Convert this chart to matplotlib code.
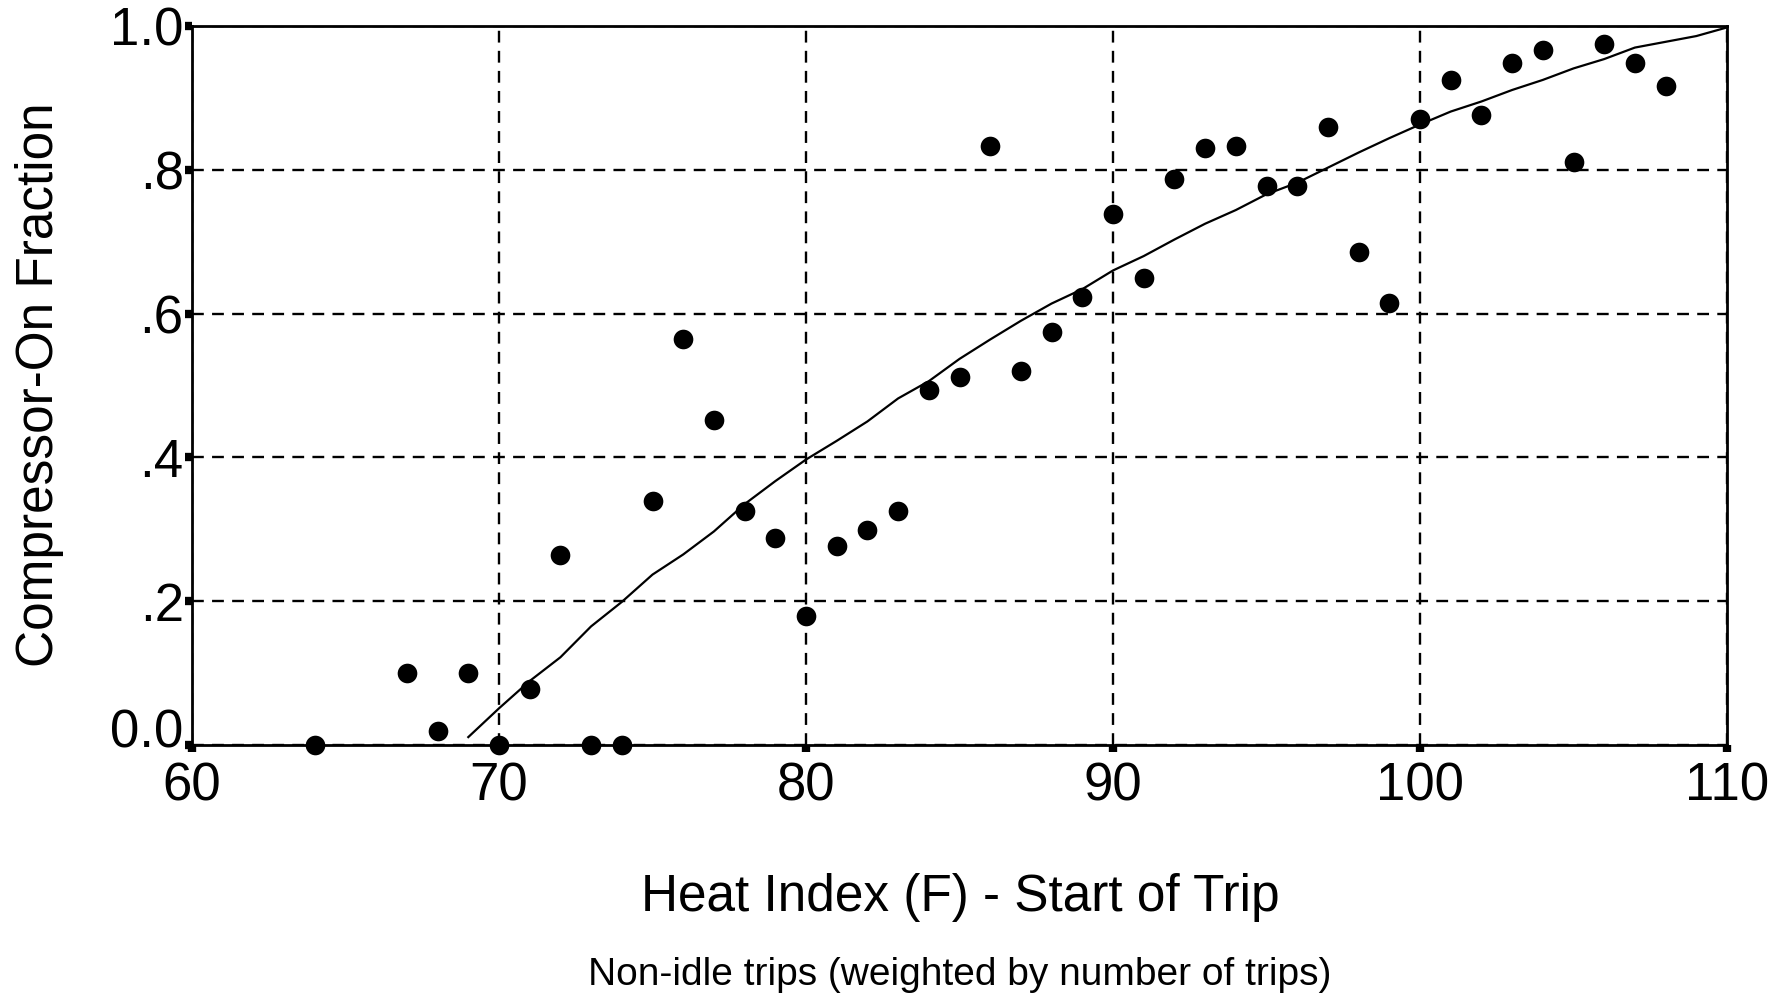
import numpy as np
import matplotlib
matplotlib.use("Agg")
import matplotlib.pyplot as plt
import matplotlib.transforms as mtransforms

# observed compressor-on fraction by heat index
heat_index = [64, 67, 68, 69, 70, 71, 72, 73, 74, 75, 76, 77, 78, 79, 80,
              81, 82, 83, 84, 85, 86, 87, 88, 89, 90, 91, 92, 93, 94, 95,
              96, 97, 98, 99, 100, 101, 102, 103, 104, 105, 106, 107, 108]
on_fraction = [0.0, 0.10, 0.02, 0.10, 0.0, 0.078, 0.264, 0.0, 0.0, 0.340,
               0.564, 0.452, 0.326, 0.288, 0.180, 0.277, 0.299, 0.326, 0.494,
               0.512, 0.833, 0.520, 0.574, 0.623, 0.738, 0.650, 0.787, 0.830,
               0.833, 0.777, 0.777, 0.860, 0.685, 0.615, 0.871, 0.925, 0.876,
               0.949, 0.967, 0.811, 0.975, 0.948, 0.917]

# fitted curve
fit_x = [69, 70, 71, 72, 73, 74, 75, 76, 77, 78, 79, 80, 81, 82, 83, 84, 85,
         86, 87, 88, 89, 90, 91, 92, 93, 94, 95, 96, 97, 98, 99, 100, 101,
         102, 103, 104, 105, 106, 107, 108, 109, 110]
fit_y = [0.011, 0.051, 0.089, 0.122, 0.165, 0.199, 0.237, 0.265, 0.297,
         0.335, 0.367, 0.397, 0.423, 0.450, 0.482, 0.506, 0.537, 0.564,
         0.590, 0.614, 0.634, 0.660, 0.680, 0.703, 0.725, 0.744, 0.766,
         0.782, 0.803, 0.824, 0.844, 0.863, 0.881, 0.895, 0.911, 0.925,
         0.941, 0.954, 0.970, 0.978, 0.986, 0.998]

x_ticks = [60, 70, 80, 90, 100, 110]
y_ticks = [0.0, 0.2, 0.4, 0.6, 0.8, 1.0]
y_tick_labels = ["0.0", ".2", ".4", ".6", ".8", "1.0"]

plt.rcParams['font.family'] = ['Liberation Sans', 'DejaVu Sans']

fig = plt.figure(figsize=(17.91, 9.97), dpi=100)
ax = fig.add_axes([192 / 1791, 1 - 745 / 997, (1727 - 192) / 1791, (745 - 26) / 997])

ax.set_xlim(60, 110)
ax.set_ylim(0, 1.0)
ax.set_xticks(x_ticks)
ax.set_yticks(y_ticks)
ax.set_yticklabels(y_tick_labels)

ax.grid(True, color='black', linestyle=(0, (5, 3.5)), linewidth=1.7)
ax.set_axisbelow(True)

ax.plot(fit_x, fit_y, color='black', linewidth=1.6, zorder=3)
ax.scatter(heat_index, on_fraction, s=200, color='black', linewidths=0,
           clip_on=False, zorder=5)

for s in ax.spines.values():
    s.set_linewidth(2)
ax.tick_params(axis='both', direction='out', length=5, width=6,
               labelsize=38)
ax.tick_params(axis='x', pad=7)
ax.tick_params(axis='y', pad=1)

# nudge the bottom label up so it clears the "60"
lab0 = ax.yaxis.get_major_ticks()[0].label1
lab0.set_transform(lab0.get_transform() +
                   mtransforms.ScaledTranslation(0, 12 / 72, fig.dpi_scale_trans))

fig.text(40 / 1791, 1 - 385 / 997, "Compressor-On Fraction", rotation=90,
         ha='center', va='center', fontsize=37)
fig.text(960 / 1791, 1 - 897 / 997, "Heat Index (F) - Start of Trip",
         ha='center', va='center', fontsize=37)
fig.text(960 / 1791, 1 - 975 / 997, "Non-idle trips (weighted by number of trips)",
         ha='center', va='center', fontsize=28)

fig.savefig("out.png", dpi=100)
